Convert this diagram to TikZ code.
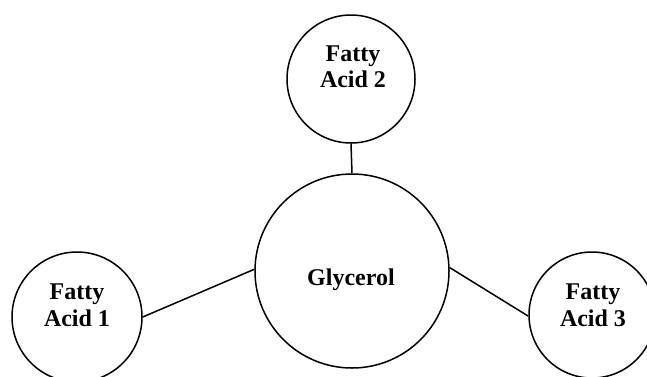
\documentclass[tikz,border=0pt]{standalone}
\usepackage{fontspec}
\setmainfont{Liberation Serif}
\begin{document}
\begin{tikzpicture}[x=1pt,y=-1pt,
  ball/.style={draw,circle,line width=1.5pt,inner sep=0pt},
  lbl/.style={font=\fontsize{24}{26.3}\selectfont\bfseries,align=center,inner sep=0pt},
  link/.style={line width=1.5pt}]
\useasboundingbox (0,0) rectangle (647,376);
\node[ball,minimum size=194pt] (gly) at (352,271) {};
\node[ball,minimum size=128pt] (fa2) at (351,79) {};
\node[ball,minimum size=130pt] (fa1) at (77,317) {};
\node[ball,minimum size=126pt] (fa3) at (592,315) {};
\node[lbl,anchor=base] (glyT) at (351,285) {Glycerol};
\node[lbl,anchor=north] (fa2T) at (353,45.5) {Fatty\\Acid 2};
\node[lbl,anchor=north] (fa1T) at (77,284) {Fatty\\Acid 1};
\node[lbl,anchor=north] (fa3T) at (593,284) {Fatty\\Acid 3};
\draw[link] (fa2.south) -- (gly.north);
\draw[link] (fa1.east) -- (gly.179);
\draw[link] (gly.2) -- (fa3.181);
\end{tikzpicture}
\end{document}
